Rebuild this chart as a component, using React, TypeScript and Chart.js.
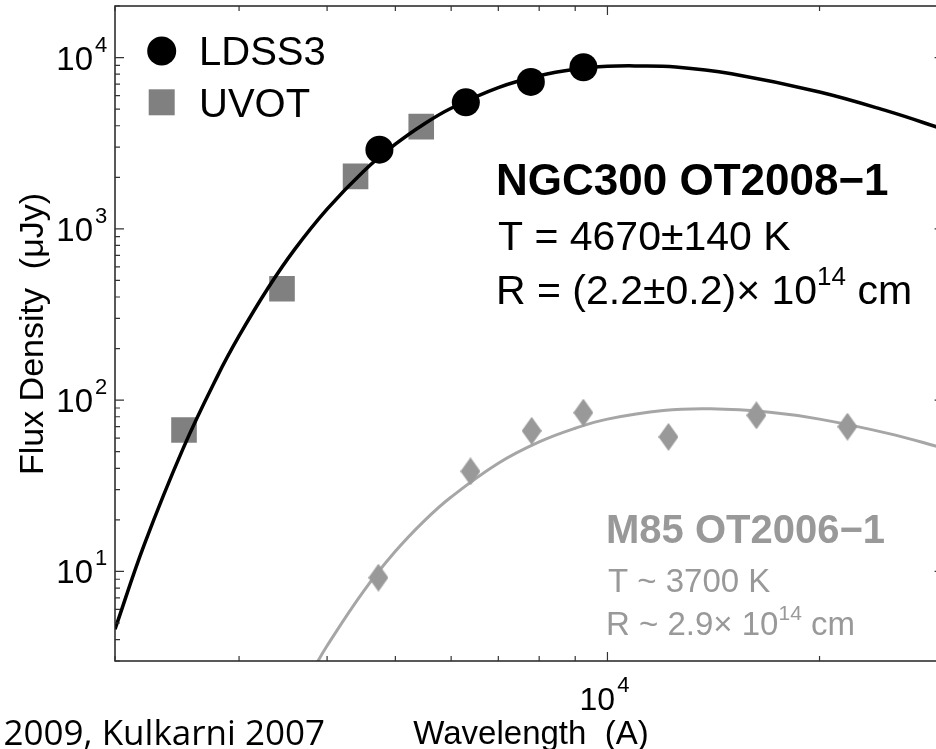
import React, { useEffect, useRef } from 'react';
import { Chart, registerables } from 'chart.js';

Chart.register(...registerables);

// ---- data ----
const ldssWave = [4746, 6295, 7785, 9245];
const ldssFlux = [2900, 5480, 7210, 8780];

const uvotWave = [2506, 3452, 4390, 5441];
const uvotFlux = [67, 447, 2025, 3950];

const m85Wave = [4730, 6391, 7806, 9243, 12206, 16270, 21910];
const m85Flux = [9.2, 38.4, 66.2, 84.5, 61, 81.5, 70];

const ngcFitWave = [2000, 2200, 2500, 2800, 3000, 3300, 3600, 4000, 4500, 5000, 5500, 6000, 7000, 8000, 9000, 10000, 11000, 12500, 15000, 20000, 25000, 30000];
const ngcFitFlux = [4.6, 14.3, 52.5, 140, 237, 453, 761, 1303, 2156, 3119, 4111, 5060, 6683, 7831, 8537, 8884, 8940, 8820, 8043, 6293, 4863, 3814];

const m85FitWave = [3800, 4000, 4500, 5000, 5500, 6000, 7000, 8000, 9000, 10000, 12000, 14000, 17000, 20000, 25000, 30000];
const m85FitFlux = [2.57, 3.68, 7.6, 13.1, 19.8, 27.2, 42.8, 57, 68.5, 77.5, 87, 89, 85, 77.5, 64, 52.5];

const xMajorTicks = [10000];
const xMajorLabels = ['4'];
const xMinorTicks = [2000, 3000, 4000, 5000, 6000, 7000, 8000, 9000, 20000, 30000];
const yMajorTicks = [10, 100, 1000, 10000];
const yMajorLabels = ['1', '2', '3', '4'];
const yMinorTicks = [3, 4, 5, 6, 7, 8, 9, 20, 30, 40, 50, 60, 70, 80, 90, 200, 300, 400, 500, 600, 700, 800, 900, 2000, 3000, 4000, 5000, 6000, 7000, 8000, 9000, 20000];

const FONT = '"Liberation Sans", Arial, Helvetica, sans-serif';

type Seg = { t: string; sup?: boolean };

function drawSegs(ctx: CanvasRenderingContext2D, segs: Seg[], x: number, y: number, size: number, supSize: number, rise: number, weight = '') {
  let cx = x;
  ctx.textAlign = 'left';
  ctx.textBaseline = 'alphabetic';
  for (const s of segs) {
    ctx.font = `${weight} ${s.sup ? supSize : size}px ${FONT}`;
    ctx.fillText(s.t, cx, s.sup ? y - rise : y);
    cx += ctx.measureText(s.t).width;
  }
  return cx;
}

function makeDiamond(w: number, h: number, color: string) {
  const c = document.createElement('canvas');
  c.width = w;
  c.height = h;
  const g = c.getContext('2d')!;
  g.fillStyle = color;
  g.beginPath();
  g.moveTo(w / 2, 0);
  g.lineTo(w, h / 2);
  g.lineTo(w / 2, h);
  g.lineTo(0, h / 2);
  g.closePath();
  g.fill();
  return c;
}

const framePlugin = {
  id: 'framePlugin',
  afterDraw(chart: any) {
    const { ctx, chartArea: a, scales } = chart;
    const xs = scales.x;
    const ys = scales.y;
    ctx.save();
    // frame
    ctx.strokeStyle = '#222';
    ctx.lineWidth = 1.5;
    ctx.strokeRect(a.left, a.top, a.right - a.left, a.bottom - a.top);
    // ticks
    ctx.lineWidth = 1.2;
    ctx.strokeStyle = '#333';
    ctx.beginPath();
    const tick = (x1: number, y1: number, x2: number, y2: number) => { ctx.moveTo(x1, y1); ctx.lineTo(x2, y2); };
    for (const v of xMinorTicks) {
      const x = xs.getPixelForValue(v);
      tick(x, a.bottom, x, a.bottom - 5);
      tick(x, a.top, x, a.top + 5);
    }
    for (const v of xMajorTicks) {
      const x = xs.getPixelForValue(v);
      tick(x, a.bottom, x, a.bottom - 9);
      tick(x, a.top, x, a.top + 9);
    }
    for (const v of yMinorTicks) {
      const y = ys.getPixelForValue(v);
      tick(a.left, y, a.left + 5, y);
      tick(a.right, y, a.right - 5, y);
    }
    for (const v of yMajorTicks) {
      const y = ys.getPixelForValue(v);
      tick(a.left, y, a.left + 9, y);
      tick(a.right, y, a.right - 9, y);
    }
    ctx.stroke();

    ctx.fillStyle = '#000';
    // y tick labels
    yMajorTicks.forEach((v, i) => {
      const y = ys.getPixelForValue(v);
      ctx.font = `33px ${FONT}`;
      ctx.textAlign = 'right';
      ctx.textBaseline = 'alphabetic';
      ctx.fillText('10', 93, y + 12);
      ctx.font = `22px ${FONT}`;
      ctx.textAlign = 'left';
      ctx.fillText(yMajorLabels[i], 95, y + 12 - 18);
    });
    // x tick labels
    xMajorTicks.forEach((v, i) => {
      const x = xs.getPixelForValue(v);
      ctx.font = `32px ${FONT}`;
      const w1 = ctx.measureText('10').width;
      ctx.font = `22px ${FONT}`;
      const w2 = ctx.measureText(xMajorLabels[i]).width;
      const start = x - (w1 + 2 + w2) / 2 - 3;
      ctx.textAlign = 'left';
      ctx.font = `32px ${FONT}`;
      ctx.fillText('10', start, 710);
      ctx.font = `22px ${FONT}`;
      ctx.fillText(xMajorLabels[i], start + w1 + 2, 692);
    });

    // axis titles
    ctx.font = `33px ${FONT}`;
    ctx.textAlign = 'center';
    ctx.fillText('Wavelength  (A)', 531, 744);
    ctx.save();
    ctx.translate(43, 334);
    ctx.rotate(-Math.PI / 2);
    ctx.font = `34px ${FONT}`;
    ctx.fillText('Flux Density  (\u03bcJy)', 0, 0);
    ctx.restore();

    // legend
    ctx.fillStyle = '#000';
    ctx.beginPath();
    ctx.arc(161.7, 51, 14.5, 0, Math.PI * 2);
    ctx.fill();
    ctx.fillStyle = '#808080';
    ctx.fillRect(161.7 - 13, 102.3 - 13, 26, 26);
    ctx.fillStyle = '#000';
    ctx.font = `40px ${FONT}`;
    ctx.textAlign = 'left';
    ctx.fillText('LDSS3', 199, 65);
    ctx.fillText('UVOT', 199, 117);

    // NGC300 annotation
    ctx.fillStyle = '#000';
    drawSegs(ctx, [{ t: 'NGC300 OT2008\u22121' }], 496, 195, 44, 44, 0, 'bold');
    drawSegs(ctx, [{ t: 'T = 4670\u00b1140 K' }], 498, 250, 41, 41, 0);
    drawSegs(ctx, [{ t: 'R = (2.2\u00b10.2)\u00d7 10' }, { t: '14', sup: true }, { t: ' cm' }], 496, 304, 41, 26, 19);

    // M85 annotation
    ctx.fillStyle = '#999999';
    drawSegs(ctx, [{ t: 'M85 OT2006\u22121' }], 606, 543, 40, 40, 0, 'bold');
    drawSegs(ctx, [{ t: 'T ~ 3700 K' }], 608, 592, 33, 33, 0);
    drawSegs(ctx, [{ t: 'R ~ 2.9\u00d7 10' }, { t: '14', sup: true }, { t: ' cm' }], 606, 635, 33, 21, 15);

    // slide footnote
    ctx.fillStyle = '#000';
    ctx.font = `35px "Open Sans", "Noto Sans", sans-serif`;
    ctx.textAlign = 'right';
    ctx.fillText('2009, Kulkarni 2007', 325, 745);

    ctx.restore();
  },
};

export default function App() {
  const ref = useRef<HTMLCanvasElement>(null);
  useEffect(() => {
    const canvas = ref.current!;
    const diamond = makeDiamond(20, 28, '#999999');
    const chart = new Chart(canvas, {
      type: 'line',
      data: {
        datasets: [
          {
            label: 'M85 fit',
            data: m85FitWave.map((x, i) => ({ x, y: m85FitFlux[i] })),
            borderColor: '#a6a6a6',
            borderWidth: 3,
            pointRadius: 0,
            tension: 0.4,
            order: 5,
          },
          {
            label: 'M85',
            data: m85Wave.map((x, i) => ({ x, y: m85Flux[i] })),
            showLine: false,
            pointStyle: diamond,
            pointRadius: 14,
            backgroundColor: '#999999',
            borderWidth: 0,
            order: 4,
          },
          {
            label: 'UVOT',
            data: uvotWave.map((x, i) => ({ x, y: uvotFlux[i] })),
            showLine: false,
            pointStyle: 'rect',
            pointRadius: 18.1,
            backgroundColor: '#808080',
            borderWidth: 0,
            order: 3,
          },
          {
            label: 'NGC fit',
            data: ngcFitWave.map((x, i) => ({ x, y: ngcFitFlux[i] })),
            borderColor: '#000',
            borderWidth: 3.5,
            pointRadius: 0,
            tension: 0.4,
            order: 2,
          },
          {
            label: 'LDSS3',
            data: ldssWave.map((x, i) => ({ x, y: ldssFlux[i] })),
            showLine: false,
            pointStyle: 'circle',
            pointRadius: 14,
            backgroundColor: '#000',
            borderWidth: 0,
            order: 1,
          },
        ] as any,
      },
      options: {
        animation: false,
        responsive: false,
        maintainAspectRatio: false,
        devicePixelRatio: 1,
        layout: { autoPadding: false, padding: { left: 115, right: 16.4, top: 6, bottom: 88 } },
        plugins: { legend: { display: false }, tooltip: { enabled: false } },
        events: [],
        scales: {
          x: { type: 'logarithmic', min: 2000, max: 30000, display: false },
          y: { type: 'logarithmic', min: 3, max: 20000, display: false },
        },
      } as any,
      plugins: [framePlugin],
    });
    return () => chart.destroy();
  }, []);
  return (
    <div style={{ position: 'fixed', left: 0, top: 0, width: 936, height: 749, overflow: 'hidden', background: '#fff' }}>
      <canvas ref={ref} width={960} height={749} style={{ display: 'block', width: 960, height: 749 }} />
    </div>
  );
}
